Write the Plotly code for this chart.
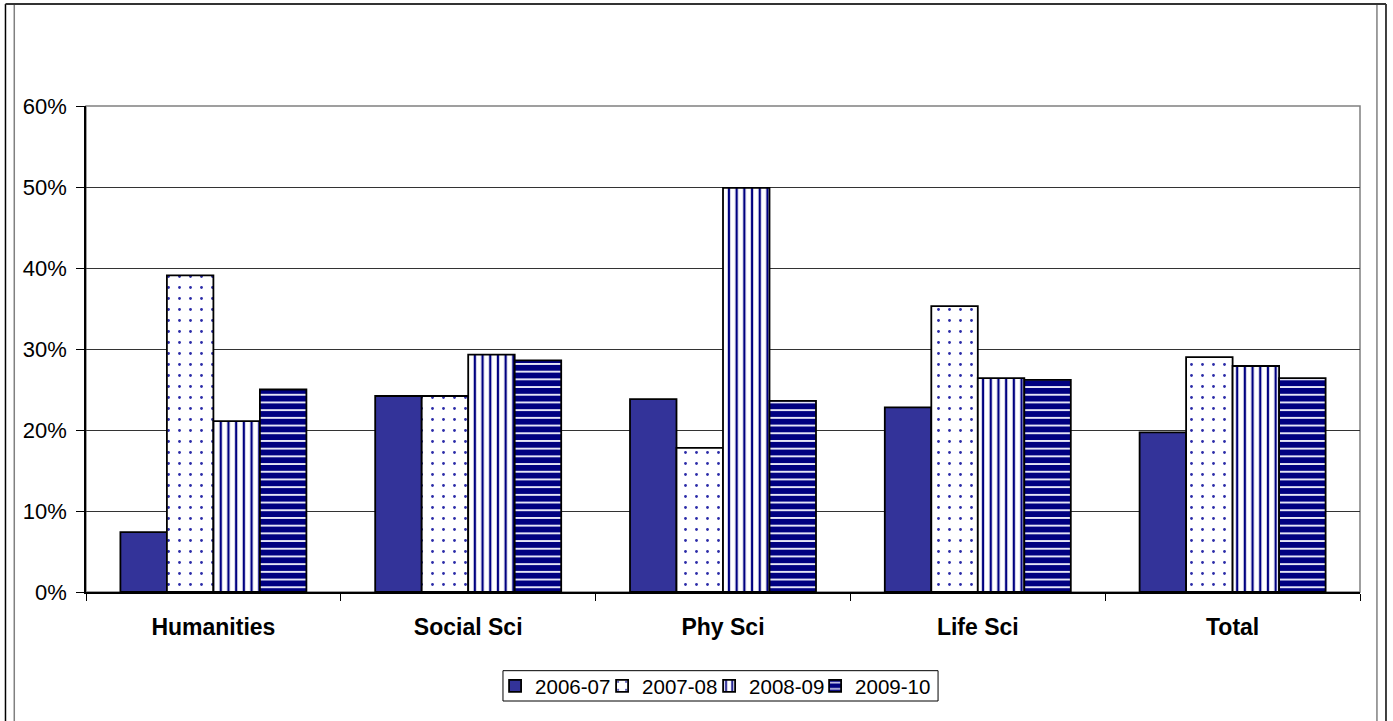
import plotly.graph_objects as go

# Share of students by field, four academic years
categories = ["Humanities", "Social Sci", "Phy Sci", "Life Sci", "Total"]
years = ["2006-07", "2007-08", "2008-09", "2009-10"]
v_2006_07 = [0.074, 0.242, 0.238, 0.228, 0.197]
v_2007_08 = [0.391, 0.242, 0.178, 0.353, 0.290]
v_2008_09 = [0.211, 0.293, 0.499, 0.264, 0.279]
v_2009_10 = [0.250, 0.286, 0.236, 0.262, 0.264]
y_ticks = [0, 0.1, 0.2, 0.3, 0.4, 0.5, 0.6]
y_tick_text = ["0%", "10%", "20%", "30%", "40%", "50%", "60%"]

FONT = "Liberation Sans, Arial, sans-serif"
NAVY = "#000080"
BLUE = "#333399"

styles = {
    "2006-07": dict(color=BLUE, pattern=dict(shape="")),
    "2007-08": dict(color="white", pattern=dict(shape=".", bgcolor="white", fgcolor="#2b2ba8",
                                                 size=11, solidity=0.05, fillmode="replace")),
    "2008-09": dict(color="white", pattern=dict(shape="|", bgcolor="white", fgcolor=NAVY,
                                                 size=7.7, solidity=0.3, fillmode="replace")),
    "2009-10": dict(color=NAVY, pattern=dict(shape="-", bgcolor=NAVY, fgcolor="#e4e4f6",
                                              size=7.7, solidity=0.25, fillmode="replace")),
}
series = {"2006-07": v_2006_07, "2007-08": v_2007_08, "2008-09": v_2008_09, "2009-10": v_2009_10}

# one legend per series so the entries sit at fixed spacing in a single row
legend_ids = ["legend", "legend2", "legend3", "legend4"]
legend_x = [0.3211, 0.4051, 0.4891, 0.5723]

fig = go.Figure()
for yr, lid in zip(years, legend_ids):
    st = styles[yr]
    fig.add_trace(go.Bar(
        name=yr, x=categories, y=series[yr], legend=lid,
        marker=dict(color=st["color"], pattern=st["pattern"],
                    line=dict(color="black", width=1.8)),
        hoverinfo="skip",
    ))

legend_common = dict(orientation="h", xanchor="left", y=-0.1934, yanchor="middle",
                     borderwidth=0, bgcolor="rgba(0,0,0,0)",
                     font=dict(family=FONT, size=20.5, color="black"),
                     itemwidth=30)
legends = {lid: dict(legend_common, x=lx) for lid, lx in zip(legend_ids, legend_x)}

# plot area frame (top/right edges), legend box and outer chart border
shapes = [
    dict(type="rect", xref="paper", yref="paper", x0=0, x1=1, y0=0, y1=1,
         line=dict(color="#808080", width=1.5), layer="below"),
    dict(type="rect", xref="paper", yref="paper", x0=0.3273, x1=0.6688, y0=-0.2243, y1=-0.1619,
         line=dict(color="black", width=1), layer="above"),
    dict(type="line", xref="paper", yref="paper", x0=-0.0632, x1=-0.0632, y0=-0.28, y1=1.2099,
         line=dict(color="black", width=1.5)),
    dict(type="line", xref="paper", yref="paper", x0=-0.0563, x1=-0.0563, y0=-0.28, y1=1.2099,
         line=dict(color="#808080", width=1.5)),
    dict(type="line", xref="paper", yref="paper", x0=1.0133, x1=1.0133, y0=-0.28, y1=1.2099,
         line=dict(color="#808080", width=1.5)),
    dict(type="line", xref="paper", yref="paper", x0=1.0204, x1=1.0204, y0=-0.28, y1=1.2099,
         line=dict(color="black", width=1.5)),
    dict(type="line", xref="paper", yref="paper", x0=-0.0632, x1=1.0204, y0=1.2099, y1=1.2099,
         line=dict(color="#333333", width=2)),
]

fig.update_layout(
    width=1393, height=721,
    margin=dict(l=86, r=33, t=106, b=129, autoexpand=False),
    paper_bgcolor="white", plot_bgcolor="white",
    barmode="group", bargap=0.27, bargroupgap=0,
    font=dict(family=FONT, size=19, color="black"),
    showlegend=True,
    xaxis=dict(showgrid=False, showline=True, linecolor="black", linewidth=1.5,
               ticks="outside", tickson="boundaries", ticklen=7, tickcolor="black",
               tickfont=dict(family=FONT, size=23, color="black", weight="bold"),
               ticklabelstandoff=14, fixedrange=True),
    yaxis=dict(range=[0, 0.6], tickvals=y_ticks, ticktext=y_tick_text,
               showgrid=True, gridcolor="#333333", gridwidth=1,
               showline=True, linecolor="black", linewidth=1.5,
               ticks="outside", ticklen=8, tickcolor="black",
               tickfont=dict(family=FONT, size=22, color="black"),
               ticklabelstandoff=5, zeroline=False, fixedrange=True),
    shapes=shapes,
    **legends,
)

fig.write_html("out.html", config={"displayModeBar": False})
